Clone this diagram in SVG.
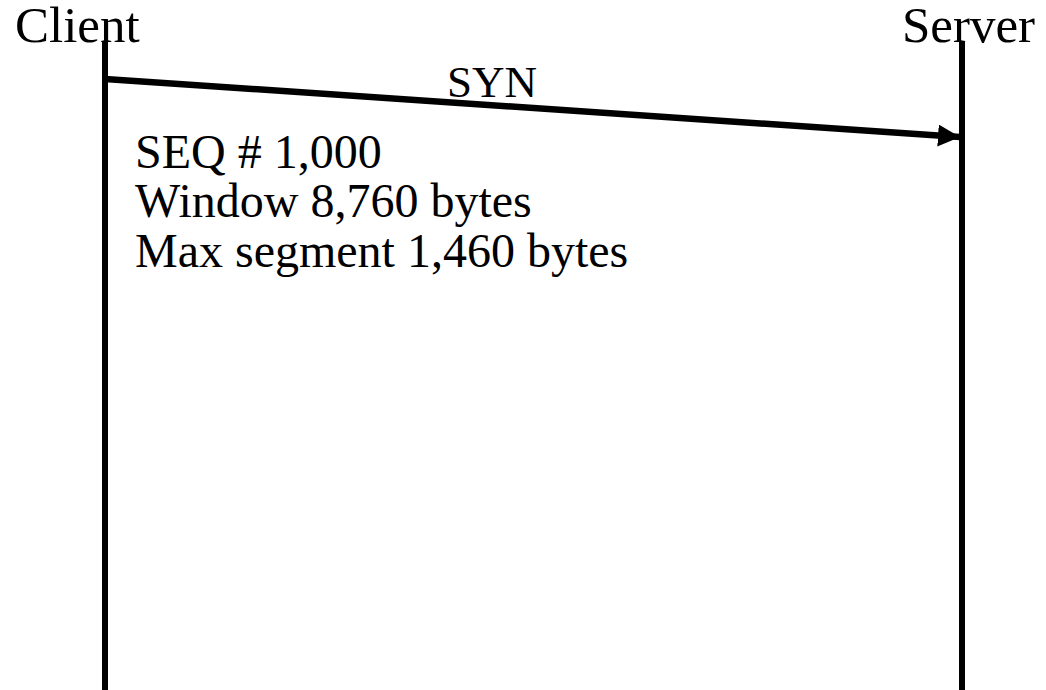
<svg xmlns="http://www.w3.org/2000/svg" width="1046" height="690" viewBox="0 0 1046 690">
  <style>
    text { font-family: "Liberation Serif", "Times New Roman", serif; fill: #000; }
    .title { font-size: 51px; }
    .label { font-size: 45px; }
    .note { font-size: 48px; }
    .life { stroke: #000; stroke-width: 6; fill: none; }
    .msg { stroke: #000; stroke-width: 6.5; fill: none; }
  </style>
  <defs>
    <marker id="arrowHead" markerUnits="userSpaceOnUse" markerWidth="24" markerHeight="24" refX="22" refY="11" orient="auto">
      <path d="M0,0 L22,11 L0,22 Z" fill="#000"/>
    </marker>
  </defs>

  <g id="client">
    <text class="title" x="15" y="42">Client</text>
    <line class="life" x1="105" y1="42" x2="105" y2="690"/>
  </g>

  <g id="server">
    <text class="title" x="902" y="42">Server</text>
    <line class="life" x1="962" y1="42" x2="962" y2="690"/>
  </g>

  <g id="connectors">
    <line class="msg" x1="105" y1="79" x2="960" y2="137" marker-end="url(#arrowHead)"/>
    <text class="label" x="447" y="97">SYN</text>
  </g>

  <g id="syn-details">
    <text class="note" x="135" y="168">SEQ # 1,000</text>
    <text class="note" x="135" y="217">Window 8,760 bytes</text>
    <text class="note" x="135" y="267">Max segment 1,460 bytes</text>
  </g>
</svg>
